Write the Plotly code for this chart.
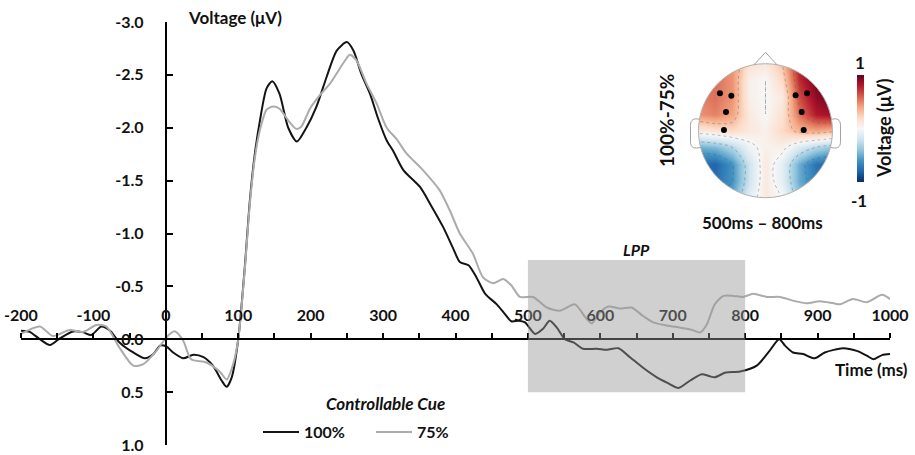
import plotly.graph_objects as go

# ---------------- data ----------------
t_100 = [-200, -188, -174, -160, -146, -128, -114, -103, -89, -77, -64, -45, -29, -17, -8, 1, 10, 24, 38, 52,
         65, 77, 84, 91, 100, 109, 116, 123, 130, 139, 147, 157, 169, 181, 194, 208, 222, 236, 250, 259,
         270, 282, 293, 305, 314, 328, 351, 365, 383, 397, 406, 418, 429, 441, 457, 468, 477, 487, 496, 510,
         521, 530, 540, 551, 563, 576, 595, 609, 625, 641, 659, 678, 692, 708, 724, 740, 751, 758, 773, 793,
         816, 832, 847, 855, 866, 880, 896, 910, 935, 954, 968, 977, 989, 1000]
v_100 = [-0.08, -0.07, 0.0, 0.055, -0.01, -0.074, -0.065, -0.04, -0.12, -0.08, 0.03, 0.125, 0.18, 0.14, 0.06, 0.07, 0.125, 0.18, 0.147, 0.17,
         0.25, 0.39, 0.45, 0.36, 0.0, -0.68, -1.31, -1.76, -2.07, -2.37, -2.44, -2.32, -2.0, -1.87, -2.0, -2.2, -2.48, -2.73, -2.81, -2.73,
         -2.51, -2.32, -2.09, -1.88, -1.78, -1.60, -1.44, -1.28, -1.06, -0.855, -0.73, -0.70, -0.585, -0.43, -0.33, -0.24, -0.17, -0.175, -0.16, -0.05,
         -0.10, -0.175, -0.11, 0.0, 0.03, 0.09, 0.09, 0.10, 0.085, 0.17, 0.27, 0.36, 0.41, 0.46, 0.39, 0.33, 0.35, 0.36, 0.315, 0.305,
         0.25, 0.125, 0.0, 0.06, 0.125, 0.14, 0.18, 0.125, 0.085, 0.11, 0.155, 0.19, 0.15, 0.14]

t_75 = [-200, -174, -156, -133, -114, -96, -82, -64, -45, -31, -13, 1, 12, 24, 35, 56, 75, 84, 93, 100,
        109, 116, 123, 130, 139, 148, 157, 169, 180, 187, 199, 213, 227, 245, 254, 263, 277, 291, 305, 319,
        332, 355, 378, 392, 406, 424, 438, 452, 466, 477, 489, 507, 526, 544, 565, 579, 588, 599, 611, 627,
        643, 659, 673, 692, 710, 726, 738, 747, 758, 770, 784, 797, 811, 830, 848, 866, 885, 903, 922, 931,
        949, 968, 989, 1000]
v_75 = [-0.05, -0.12, -0.03, -0.087, -0.07, -0.135, -0.12, 0.08, 0.25, 0.235, 0.11, -0.02, -0.075, 0.014, 0.19, 0.22, 0.31, 0.38, 0.235, 0.0,
        -0.66, -1.28, -1.72, -1.98, -2.17, -2.20, -2.18, -2.07, -1.99, -2.01, -2.18, -2.31, -2.42, -2.61, -2.69, -2.64, -2.42, -2.23, -2.0, -1.89,
        -1.76, -1.60, -1.41, -1.22, -1.0, -0.81, -0.585, -0.53, -0.57, -0.51, -0.40, -0.40, -0.30, -0.27, -0.33, -0.21, -0.15, -0.25, -0.31, -0.29,
        -0.30, -0.22, -0.16, -0.13, -0.11, -0.09, -0.065, -0.14, -0.33, -0.41, -0.41, -0.40, -0.43, -0.40, -0.40, -0.365, -0.34, -0.36, -0.34, -0.33,
        -0.38, -0.35, -0.42, -0.38]

x_tickvals = list(range(-200, 1001, 50))
x_ticktext = [str(v) if v % 100 == 0 else "" for v in x_tickvals]
y_tickvals = [-3.0, -2.5, -2.0, -1.5, -1.0, -0.5, 0.0, 0.5, 1.0]
y_ticktext = ["-3.0", "-2.5", "-2.0", "-1.5", "-1.0", "-0.5", "0.0", "0.5", "1.0"]

lpp_window = [500, 800]
lpp_vrange = [-0.75, 0.5]

# topographic difference map (100%-75%), coarse grid
topo_x = [-1.0, -0.75, -0.5, -0.25, 0.0, 0.25, 0.5, 0.75, 1.0]
topo_y = [-1.0, -0.75, -0.5, -0.25, 0.0, 0.25, 0.5, 0.75, 1.0]
topo_z = [
    [-0.6, -0.6, -0.5, -0.1, 0.1, 0.0, -0.4, -0.6, -0.6],
    [-0.7, -0.75, -0.6, -0.2, 0.1, -0.1, -0.5, -0.7, -0.7],
    [-0.75, -0.8, -0.6, -0.2, 0.1, -0.1, -0.5, -0.75, -0.8],
    [-0.5, -0.45, -0.3, -0.05, 0.05, 0.05, -0.15, -0.3, -0.4],
    [0.1, 0.15, 0.2, 0.1, 0.05, 0.2, 0.35, 0.4, 0.35],
    [0.45, 0.5, 0.4, 0.1, 0.0, 0.15, 0.55, 0.8, 0.85],
    [0.5, 0.55, 0.45, 0.05, 0.0, 0.1, 0.65, 0.9, 0.95],
    [0.5, 0.55, 0.45, 0.05, 0.0, 0.2, 0.75, 0.95, 0.95],
    [0.5, 0.5, 0.45, 0.15, 0.1, 0.3, 0.8, 0.9, 0.9],
]
elec_x = [-0.68, -0.51, -0.59, -0.62, 0.45, 0.62, 0.54, 0.57]
elec_y = [0.56, 0.52, 0.28, 0.01, 0.53, 0.56, 0.28, 0.01]

rdbu_r = [[0.0, "#053061"], [0.1, "#2166ac"], [0.2, "#4393c3"], [0.3, "#92c5de"], [0.4, "#d1e5f0"],
          [0.5, "#f7f7f7"], [0.6, "#fddbc7"], [0.7, "#f4a582"], [0.8, "#d6604d"], [0.9, "#b2182b"], [1.0, "#67001f"]]

FONT = "Lato"
INK = "#111111"


def bold(size, italic=False):
    d = dict(family=FONT, size=size, color=INK, weight="bold")
    if italic:
        d["style"] = "italic"
    return d


# ---------------- layout geometry (pixels) ----------------
W, H = 915, 455
ML, MR, MT, MB = 21, 25, 22, 10
PW, PH = W - ML - MR, H - MT - MB


def px_x(p):
    return (p - ML) / PW


def px_y(p):
    return (H - MB - p) / PH


fig = go.Figure()

fig.add_trace(go.Scatter(x=t_100, y=v_100, mode="lines", name="100%",
                         line=dict(color="#141414", width=2, shape="spline", smoothing=0.7)))
fig.add_trace(go.Scatter(x=t_75, y=v_75, mode="lines", name="75%",
                         line=dict(color="#ababab", width=2, shape="spline", smoothing=0.7)))

# inset topomap
cx, cy, rr = 765.5, 130.7, 67.0
half = 1.25 * rr
fig.add_trace(go.Heatmap(x=topo_x, y=topo_y, z=topo_z, xaxis="x2", yaxis="y2", zsmooth="best",
                         zmin=-1, zmax=1, colorscale=rdbu_r, showlegend=False, hoverinfo="skip",
                         colorbar=dict(x=px_x(857), xanchor="left", y=px_y(128.5), yanchor="middle",
                                       thickness=7, lenmode="pixels", len=107, showticklabels=False,
                                       ticks="", outlinewidth=0, xpad=0, ypad=0)))
fig.add_trace(go.Contour(x=topo_x, y=topo_y, z=topo_z, xaxis="x2", yaxis="y2", showscale=False,
                         contours=dict(coloring="none", start=-0.6, end=0.6, size=0.3),
                         line=dict(color="rgba(90,90,90,0.55)", width=0.7, dash="dot", smoothing=1.0),
                         showlegend=False, hoverinfo="skip"))
fig.add_trace(go.Scatter(x=elec_x, y=elec_y, xaxis="x2", yaxis="y2", mode="markers", showlegend=False,
                         marker=dict(color="black", size=6), hoverinfo="skip"))

k = 0.5523
circle = (f"M 1,0 C 1,{k} {k},1 0,1 C {-k},1 -1,{k} -1,0 C -1,{-k} {-k},-1 0,-1 "
          f"C {k},-1 1,{-k} 1,0 Z")
mask = "M -1.25,-1.25 L 1.25,-1.25 L 1.25,1.25 L -1.25,1.25 Z " + circle

shapes = [
    dict(type="rect", xref="x", yref="y", x0=lpp_window[0], x1=lpp_window[1], y0=lpp_vrange[0], y1=lpp_vrange[1],
         fillcolor="rgb(150,150,150)", opacity=0.45, line=dict(width=0), layer="above"),
    dict(type="path", xref="x2", yref="y2", path=mask, fillcolor="white", fillrule="evenodd",
         line=dict(width=0), layer="above"),
    dict(type="path", xref="x2", yref="y2", path=circle, line=dict(color="#b0b0b0", width=1), layer="above"),
    dict(type="path", xref="x2", yref="y2", path="M -0.17,0.985 L 0,1.17 L 0.17,0.985",
         line=dict(color="#a0a0a0", width=1), layer="above"),
    dict(type="path", xref="x2", yref="y2",
         path="M -0.99,0.17 C -1.06,0.19 -1.12,0.17 -1.12,0.08 L -1.12,-0.16 C -1.12,-0.26 -1.06,-0.27 -0.97,-0.25",
         line=dict(color="#a0a0a0", width=1), layer="above"),
    dict(type="path", xref="x2", yref="y2",
         path="M 0.99,0.17 C 1.06,0.19 1.12,0.17 1.12,0.08 L 1.12,-0.16 C 1.12,-0.26 1.06,-0.27 0.97,-0.25",
         line=dict(color="#a0a0a0", width=1), layer="above"),
]

annotations = [
    dict(text="Voltage (μV)", xref="paper", yref="paper", x=px_x(186), y=px_y(18), xanchor="left",
         yanchor="middle", showarrow=False, font=bold(17)),
    dict(text="Time (ms)", xref="paper", yref="paper", x=px_x(910), y=px_y(369), xanchor="right",
         yanchor="middle", showarrow=False, font=bold(17)),
    dict(text="LPP", xref="x", yref="paper", x=650, y=px_y(249), xanchor="center", yanchor="middle",
         showarrow=False, font=bold(16, italic=True)),
    dict(text="Controllable Cue", xref="paper", yref="paper", x=px_x(385), y=px_y(403), xanchor="center",
         yanchor="middle", showarrow=False, font=bold(17, italic=True)),
    dict(text="100%-75%", xref="paper", yref="paper", x=px_x(666), y=px_y(121), textangle=-90,
         xanchor="center", yanchor="middle", showarrow=False, font=bold(19)),
    dict(text="Voltage (μV)", xref="paper", yref="paper", x=px_x(884), y=px_y(128), textangle=-90,
         xanchor="center", yanchor="middle", showarrow=False, font=bold(18)),
    dict(text="1", xref="paper", yref="paper", x=px_x(860), y=px_y(62), xanchor="center", yanchor="middle",
         showarrow=False, font=bold(17)),
    dict(text="-1", xref="paper", yref="paper", x=px_x(859), y=px_y(200), xanchor="center", yanchor="middle",
         showarrow=False, font=bold(17)),
    dict(text="500ms – 800ms", xref="paper", yref="paper", x=px_x(762), y=px_y(222), xanchor="center",
         yanchor="middle", showarrow=False, font=bold(17)),
]

fig.update_layout(
    width=W, height=H, margin=dict(l=ML, r=MR, t=MT, b=MB, autoexpand=False),
    paper_bgcolor="white", plot_bgcolor="white",
    font=dict(family=FONT, color=INK),
    shapes=shapes, annotations=annotations,
    showlegend=True,
    legend=dict(orientation="h", x=px_x(258), y=px_y(415), xanchor="left", yanchor="top",
                font=bold(16), entrywidth=62, entrywidthmode="pixels", bgcolor="rgba(0,0,0,0)",
                itemwidth=36),
    xaxis=dict(range=[-200, 1000], anchor="free", position=0.25, side="top",
               tickvals=x_tickvals, ticktext=x_ticktext, ticks="outside", ticklen=5, tickwidth=1.5,
               tickcolor="black", showline=True, linecolor="black", linewidth=2, showgrid=False,
               zeroline=False, tickfont=bold(16), ticklabelstandoff=6),
    yaxis=dict(range=[1, -3], anchor="free", position=1 / 6, side="left",
               tickvals=y_tickvals, ticktext=y_ticktext, ticks="inside", ticklen=6, tickwidth=1.5,
               tickcolor="black", showline=True, linecolor="black", linewidth=2, showgrid=False,
               zeroline=False, tickfont=bold(16), ticklabelstandoff=18),
    xaxis2=dict(domain=[px_x(cx - half), px_x(cx + half)], range=[-1.25, 1.25], anchor="y2",
                visible=False, fixedrange=True),
    yaxis2=dict(domain=[px_y(cy + half), px_y(cy - half)], range=[-1.25, 1.25], anchor="x2",
                visible=False, fixedrange=True),
)

fig.write_html("out.html")
